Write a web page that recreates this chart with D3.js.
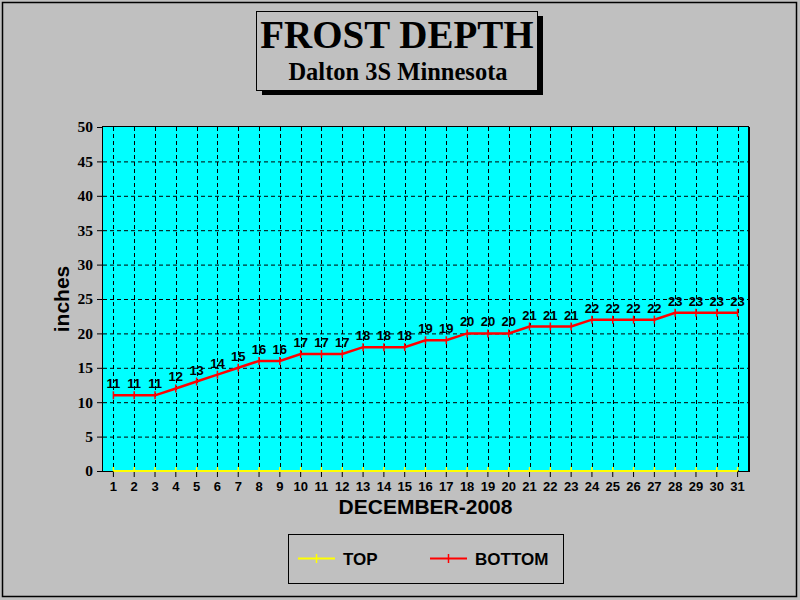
<!DOCTYPE html>
<html><head><meta charset="utf-8">
<script src="https://cdn.jsdelivr.net/npm/d3@7"></script>
<style>html,body{margin:0;padding:0;background:#c0c0c0;}svg{display:block;}</style>
</head><body>
<svg id="c" width="800" height="600"></svg>
<script>
const days = d3.range(1, 32).map(String);
const topValues = new Array(31).fill(0);
const bottomValues = [11,11,11,12,13,14,15,16,16,17,17,17,18,18,18,19,19,20,20,20,21,21,21,22,22,22,22,23,23,23,23];
const yTicks = [0,5,10,15,20,25,30,35,40,45,50];
const titleText = "FROST DEPTH";
const subtitleText = "Dalton 3S Minnesota";
const xTitle = "DECEMBER-2008";
const yTitle = "inches";
const seriesNames = ["TOP", "BOTTOM"];
const seriesColors = ["#ffff00", "#ff0000"];

const svg = d3.select("#c");
svg.append("rect").attr("x",0).attr("y",0).attr("width",800).attr("height",600).attr("fill","#c0c0c0");
svg.append("rect").attr("x",2.5).attr("y",2.5).attr("width",794).attr("height",594).attr("fill","none").attr("stroke","#000").attr("stroke-width",1.5);

const L=103, R=748, T=127, B=471;
const x = d3.scaleBand().domain(days).range([L,R]);
const y = d3.scaleLinear().domain([0,50]).range([B,T]);
const cx = d => x(d) + x.bandwidth()/2;

svg.append("rect").attr("x",L).attr("y",T).attr("width",R-L).attr("height",B-T).attr("fill","#00ffff");

// grid
const g = svg.append("g");
g.selectAll(".hg").data(yTicks.filter(v=>v>0&&v<50)).join("line")
 .attr("x1",L).attr("x2",R).attr("y1",d=>y(d)+0.5).attr("y2",d=>y(d)+0.5)
 .attr("stroke","#000").attr("stroke-dasharray","4,3").attr("stroke-width",1);
g.selectAll(".vg").data(days).join("line")
 .attr("x1",d=>Math.round(cx(d))+0.5).attr("x2",d=>Math.round(cx(d))+0.5).attr("y1",T).attr("y2",B)
 .attr("stroke","#000").attr("stroke-dasharray","4,3").attr("stroke-width",1);

// axes
const yAxis = d3.axisLeft(y).tickValues(yTicks).tickSize(6).tickPadding(4);
const ya = svg.append("g").attr("transform",`translate(${L},0)`).call(yAxis);
ya.select(".domain").remove();
ya.selectAll("text").attr("font-family","'Liberation Serif','Times New Roman',serif").attr("font-weight","bold").attr("font-size",15.5).attr("fill","#000");
ya.selectAll("line").attr("stroke","#000");

const xAxis = d3.axisBottom(x).tickSize(6).tickPadding(5);
const xa = svg.append("g").attr("transform",`translate(0,${B})`).call(xAxis);
xa.select(".domain").remove();
xa.selectAll("text").attr("font-family","'Liberation Sans',Arial,sans-serif").attr("font-size",13).attr("font-weight","bold").attr("fill","#000");
xa.selectAll("line").attr("stroke","#000");

// plot border
svg.append("rect").attr("x",L-0.5).attr("y",T-0.5).attr("width",R-L+1).attr("height",B-T+1).attr("fill","none").attr("stroke","#000").attr("stroke-width",1);
svg.append("line").attr("x1",R+1).attr("x2",R+1).attr("y1",T).attr("y2",B+1).attr("stroke","#000").attr("stroke-width",2);

// series
const line = d3.line().x((d,i)=>cx(days[i])).y(d=>y(d));
[topValues, bottomValues].forEach((vals,si)=>{
  svg.append("path").datum(vals).attr("d",line).attr("fill","none").attr("stroke",seriesColors[si]).attr("stroke-width",si===0?2:2.5);
  svg.append("g").selectAll("line").data(vals).join("line")
   .attr("x1",(d,i)=>cx(days[i])).attr("x2",(d,i)=>cx(days[i]))
   .attr("y1",d=>y(d)-4).attr("y2",d=>y(d)+ (si===0?0:4))
   .attr("stroke",seriesColors[si]).attr("stroke-width",1.5);
});
// data labels
svg.append("g").selectAll("text").data(bottomValues).join("text")
 .attr("x",(d,i)=>cx(days[i])).attr("y",d=>y(d)-7)
 .attr("text-anchor","middle").attr("font-family","'Liberation Sans',Arial,sans-serif").attr("font-size",13).attr("font-weight","bold").attr("fill","#000")
 .text(d=>d);

// axis titles
svg.append("text").attr("x",(L+R)/2).attr("y",514).attr("text-anchor","middle")
 .attr("font-family","'Liberation Sans',Arial,sans-serif").attr("font-weight","bold").attr("font-size",21).text(xTitle);
svg.append("text").attr("transform",`translate(69,${(T+B)/2}) rotate(-90)`).attr("text-anchor","middle")
 .attr("font-family","'Liberation Sans',Arial,sans-serif").attr("font-weight","bold").attr("font-size",21).text(yTitle);

// title box
svg.append("rect").attr("x",262).attr("y",16).attr("width",281).attr("height",79).attr("fill","#000");
svg.append("rect").attr("x",256.5).attr("y",11.5).attr("width",281).attr("height",79).attr("fill","#c0c0c0").attr("stroke","#000").attr("stroke-width",1);
svg.append("text").attr("x",397).attr("y",48).attr("text-anchor","middle")
 .attr("font-family","'Liberation Serif','Times New Roman',serif").attr("font-weight","bold").attr("font-size",39).text(titleText);
svg.append("text").attr("x",398).attr("y",80).attr("text-anchor","middle")
 .attr("font-family","'Liberation Serif','Times New Roman',serif").attr("font-weight","bold").attr("font-size",24.5).text(subtitleText);

// legend
svg.append("rect").attr("x",288.5).attr("y",534.5).attr("width",275).attr("height",49).attr("fill","none").attr("stroke","#000").attr("stroke-width",1);
const lx = [298, 430];
seriesNames.forEach((n,i)=>{
  svg.append("line").attr("x1",lx[i]).attr("x2",lx[i]+37).attr("y1",558.5).attr("y2",558.5).attr("stroke",seriesColors[i]).attr("stroke-width",2);
  svg.append("line").attr("x1",lx[i]+18.5).attr("x2",lx[i]+18.5).attr("y1",554).attr("y2",563).attr("stroke",seriesColors[i]).attr("stroke-width",1.5);
  svg.append("text").attr("x",lx[i]+45).attr("y",565).attr("font-family","'Liberation Sans',Arial,sans-serif").attr("font-weight","bold").attr("font-size",17).text(n);
});
</script>
</body></html>
